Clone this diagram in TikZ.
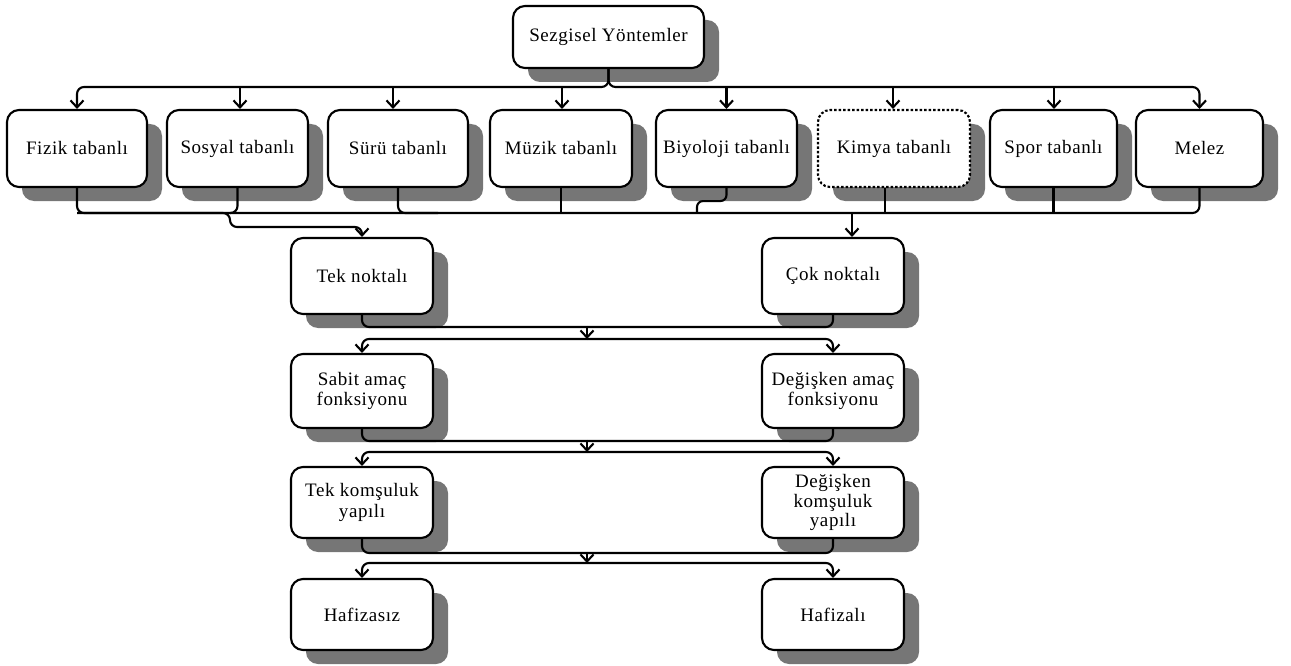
\documentclass[tikz,border=0pt]{standalone}
\usepackage{fontspec}
\setmainfont{Liberation Serif}[LetterSpace=3]
\usetikzlibrary{arrows.meta,shadows}
\definecolor{shadowgray}{HTML}{767676}
\begin{document}
\begin{tikzpicture}[x=1pt,y=-1pt,
  box/.style={draw, line width=2.1pt, rounded corners=12pt, fill=white, align=center, inner sep=2pt,
    font=\fontsize{19}{20.5}\selectfont,
    drop shadow={shadow xshift=15pt, shadow yshift=-14pt, fill=shadowgray, opacity=1}},
  rowtwo/.style={box, minimum height=77pt},
  lower/.style={box, minimum width=142pt},
  con/.style={line width=2.1pt, rounded corners=7pt},
  arr/.style={-{Straight Barb[length=7pt,width=13pt]}}]
\useasboundingbox (0,0) rectangle (1291,666);

% nodes
\node[box, minimum width=191pt, minimum height=62pt] (top) at (608.5,37) {Sezgisel Yöntemler};

\node[rowtwo, minimum width=140pt] (fizik) at (77,148.5) {Fizik tabanlı};
\node[rowtwo, minimum width=141pt] (sosyal) at (237.5,148.5) {Sosyal tabanlı};
\node[rowtwo, minimum width=140pt] (suru) at (398,148.5) {Sürü tabanlı};
\node[rowtwo, minimum width=142pt] (muzik) at (561,148.5) {Müzik tabanlı};
\node[rowtwo, minimum width=141pt] (biyo) at (726.5,148.5) {Biyoloji tabanlı};
\node[rowtwo, minimum width=152pt, dash pattern=on 2.5pt off 2pt] (kimya) at (894,148.5) {Kimya tabanlı};
\node[rowtwo, minimum width=127pt] (spor) at (1053.5,148.5) {Spor tabanlı};
\node[rowtwo, minimum width=127pt] (melez) at (1199.5,148.5) {Melez};

\node[lower, minimum height=76pt] (tek) at (362,276) {Tek noktalı};
\node[lower, minimum height=76pt] (cok) at (833,276) {Çok noktalı};
\node[lower, minimum height=74pt] (sabit) at (362,391) {Sabit amaç\\fonksiyonu};
\node[lower, minimum height=74pt] (degamac) at (833,391) {Değişken amaç\\fonksiyonu};
\node[lower, minimum height=71pt] (tekkom) at (362,502.5) {Tek komşuluk\\yapılı};
\node[lower, minimum height=71pt, font=\fontsize{19}{19.5}\selectfont] (degkom) at (833,502.5) {Değişken\\komşuluk\\yapılı};
\node[lower, minimum height=71pt] (hafsiz) at (362,614.5) {Hafizasız};
\node[lower, minimum height=71pt] (hafli) at (833,614.5) {Hafizalı};

% top bus
\coordinate (t0) at (608.5,87);
\draw[con,arr] (top.south) -- (t0) -| (fizik.north);
\draw[con,arr] (top.south) -- (t0) -| (melez.north);
\foreach \n/\dx in {sosyal/2.5pt, suru/-5pt, muzik/1pt, biyo/0pt, kimya/-1pt, spor/0.5pt}
  \draw[con,arr] ([xshift=\dx]\n.north |- t0) -- ([xshift=\dx]\n.north);

% second row to third row
\coordinate (b1) at (230,213);
\coordinate (b2) at (300,227);
\draw[con,arr] (fizik.south) |- (b1) |- (b2) -| (tek.north);
\draw[con] (sosyal.south) |- (fizik.south |- b1);
\draw[con] (melez.south) |- (b1);
\draw[con] (suru.south) |- ([xshift=40pt]suru.south |- b1);
\draw[con] (muzik.south) -- (muzik.south |- b1);
\coordinate (bj) at (697,213);
\draw[con, rounded corners=6pt] (biyo.south) -- ++(0,13) -| (bj);
\draw[con] ([xshift=-9pt]kimya.south) -- ([xshift=-9pt]kimya.south |- b1);
\draw[con] (spor.south) -- (spor.south |- b1);
\coordinate (cj) at (852,213);
\draw[con,arr] (cj) -- (cj |- cok.north);

% lower buses
\coordinate (j1) at (587,327); \coordinate (k1) at (587,339);
\draw[con] (tek.south) |- (j1);
\draw[con] (cok.south) |- (j1);
\draw[con,arr] (j1) -- (k1);
\draw[con,arr] (k1) -| (sabit.north);
\draw[con,arr] (k1) -| (degamac.north);

\coordinate (j2) at (587,441); \coordinate (k2) at (587,452);
\draw[con] (sabit.south) |- (j2);
\draw[con] (degamac.south) |- (j2);
\draw[con,arr] (j2) -- (k2);
\draw[con,arr] (k2) -| (tekkom.north);
\draw[con,arr] (k2) -| (degkom.north);

\coordinate (j3) at (587,553); \coordinate (k3) at (587,563);
\draw[con] (tekkom.south) |- (j3);
\draw[con] (degkom.south) |- (j3);
\draw[con,arr] (j3) -- (k3);
\draw[con,arr] (k3) -| (hafsiz.north);
\draw[con,arr] (k3) -| (hafli.north);
\end{tikzpicture}
\end{document}
